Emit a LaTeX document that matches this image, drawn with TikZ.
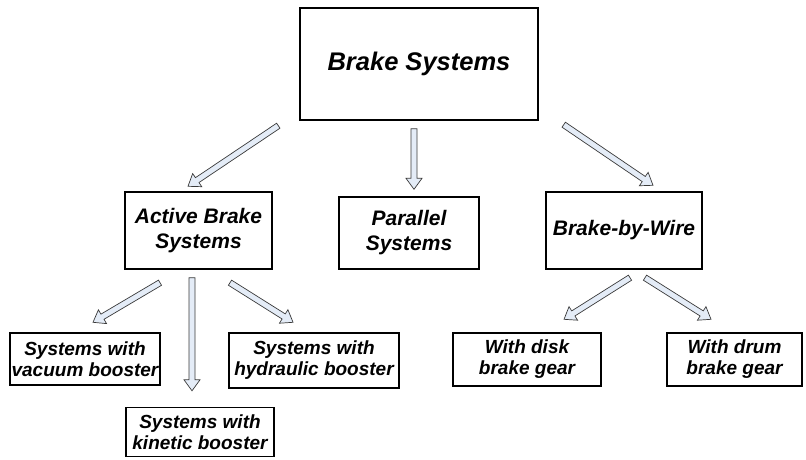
\documentclass[tikz,border=0pt]{standalone}
\usepackage{fontspec}
\setmainfont{Liberation Sans}
\usetikzlibrary{calc}
\definecolor{arrowfill}{HTML}{E4ECF7}
\definecolor{arrowline}{HTML}{3A3A3A}
\tikzset{
  topbox/.style={
    draw=black,
    line width=1.4pt,
    align=center,
    inner sep=0pt,
    minimum width=238pt,
    minimum height=112pt,
    font=\fontsize{25.5}{30}\selectfont\bfseries\itshape
  },
  midbox/.style={
    draw=black,
    line width=1.4pt,
    align=center,
    inner sep=0pt,
    minimum height=77pt,
    font=\fontsize{21}{25}\selectfont\bfseries\itshape
  },
  leafbox/.style={
    draw=black,
    line width=1.4pt,
    align=center,
    inner sep=0pt,
    minimum height=53pt,
    font=\fontsize{19}{21}\selectfont\bfseries\itshape
  },
  blockarrow/.style={
    draw=arrowline,
    fill=arrowfill,
    line width=0.7pt,
    line join=miter,
    to path={
      let \p1=(\tikztostart), \p2=(\tikztotarget),
          \n1={atan2(\y2-\y1,\x2-\x1)},
          \n2={veclen(\x2-\x1,\y2-\y1)-11pt} in
      (\p1) ++(\n1+90:3pt) -- ++(\n1:\n2) -- ++(\n1+90:5pt) -- (\p2)
      -- ($(\p2)+(\n1:-11pt)+(\n1-90:8pt)$) -- ++(\n1+90:5pt)
      -- ($(\p1)+(\n1-90:3pt)$) -- cycle
    }
  }
}

\begin{document}
\begin{tikzpicture}[x=1pt,y=-1pt]
  \useasboundingbox (0,0) rectangle (806,459);

  \node[topbox] (brake) at (419,64) {Brake Systems};

  \node[midbox, minimum width=147pt] (active) at (198.5,230.5) {Active Brake\\Systems};
  \node[midbox, minimum width=140pt, minimum height=72pt] (parallel) at (409,233) {Parallel\\Systems};
  \node[midbox, minimum width=156pt] (bywire) at (624,230.5) {Brake-by-Wire};

  \node[leafbox, minimum width=150pt, minimum height=52pt] (vacuum) at (85,359) {Systems with\\vacuum booster};
  \node[leafbox, minimum width=170pt, minimum height=55pt] (hydraulic) at (314,360.5) {Systems with\\hydraulic booster};
  \node[leafbox, minimum width=148pt, minimum height=49pt] (kinetic) at (200,432) {Systems with\\kinetic booster};
  \node[leafbox, minimum width=148pt] (disk) at (527,359.5) {With disk\\brake gear};
  \node[leafbox, minimum width=135pt] (drum) at (734.5,359.5) {With drum\\brake gear};

  \draw[blockarrow] ([shift={(-21,5)}]brake.south west) to ([shift={(-10.5,-5)}]active.north);
  \draw[blockarrow] ([shift={(-5,8)}]brake.south) to ([shift={(5,-7)}]parallel.north);
  \draw[blockarrow] ([shift={(25,4)}]brake.south east) to ([shift={(29,-6)}]bywire.north);

  \draw[blockarrow] ([shift={(-38.5,13)}]active.south) to ([shift={(8,-10)}]vacuum.north);
  \draw[blockarrow] ([shift={(-6.5,8)}]active.south) to ([shift={(-8,-16)}]kinetic.north);
  \draw[blockarrow] ([shift={(31.5,13)}]active.south) to ([shift={(-21,-10)}]hydraulic.north);

  \draw[blockarrow] ([shift={(6,8)}]bywire.south) to ([shift={(37,-13)}]disk.north);
  \draw[blockarrow] ([shift={(21,8)}]bywire.south) to ([shift={(-23.5,-13)}]drum.north);
\end{tikzpicture}
\end{document}
